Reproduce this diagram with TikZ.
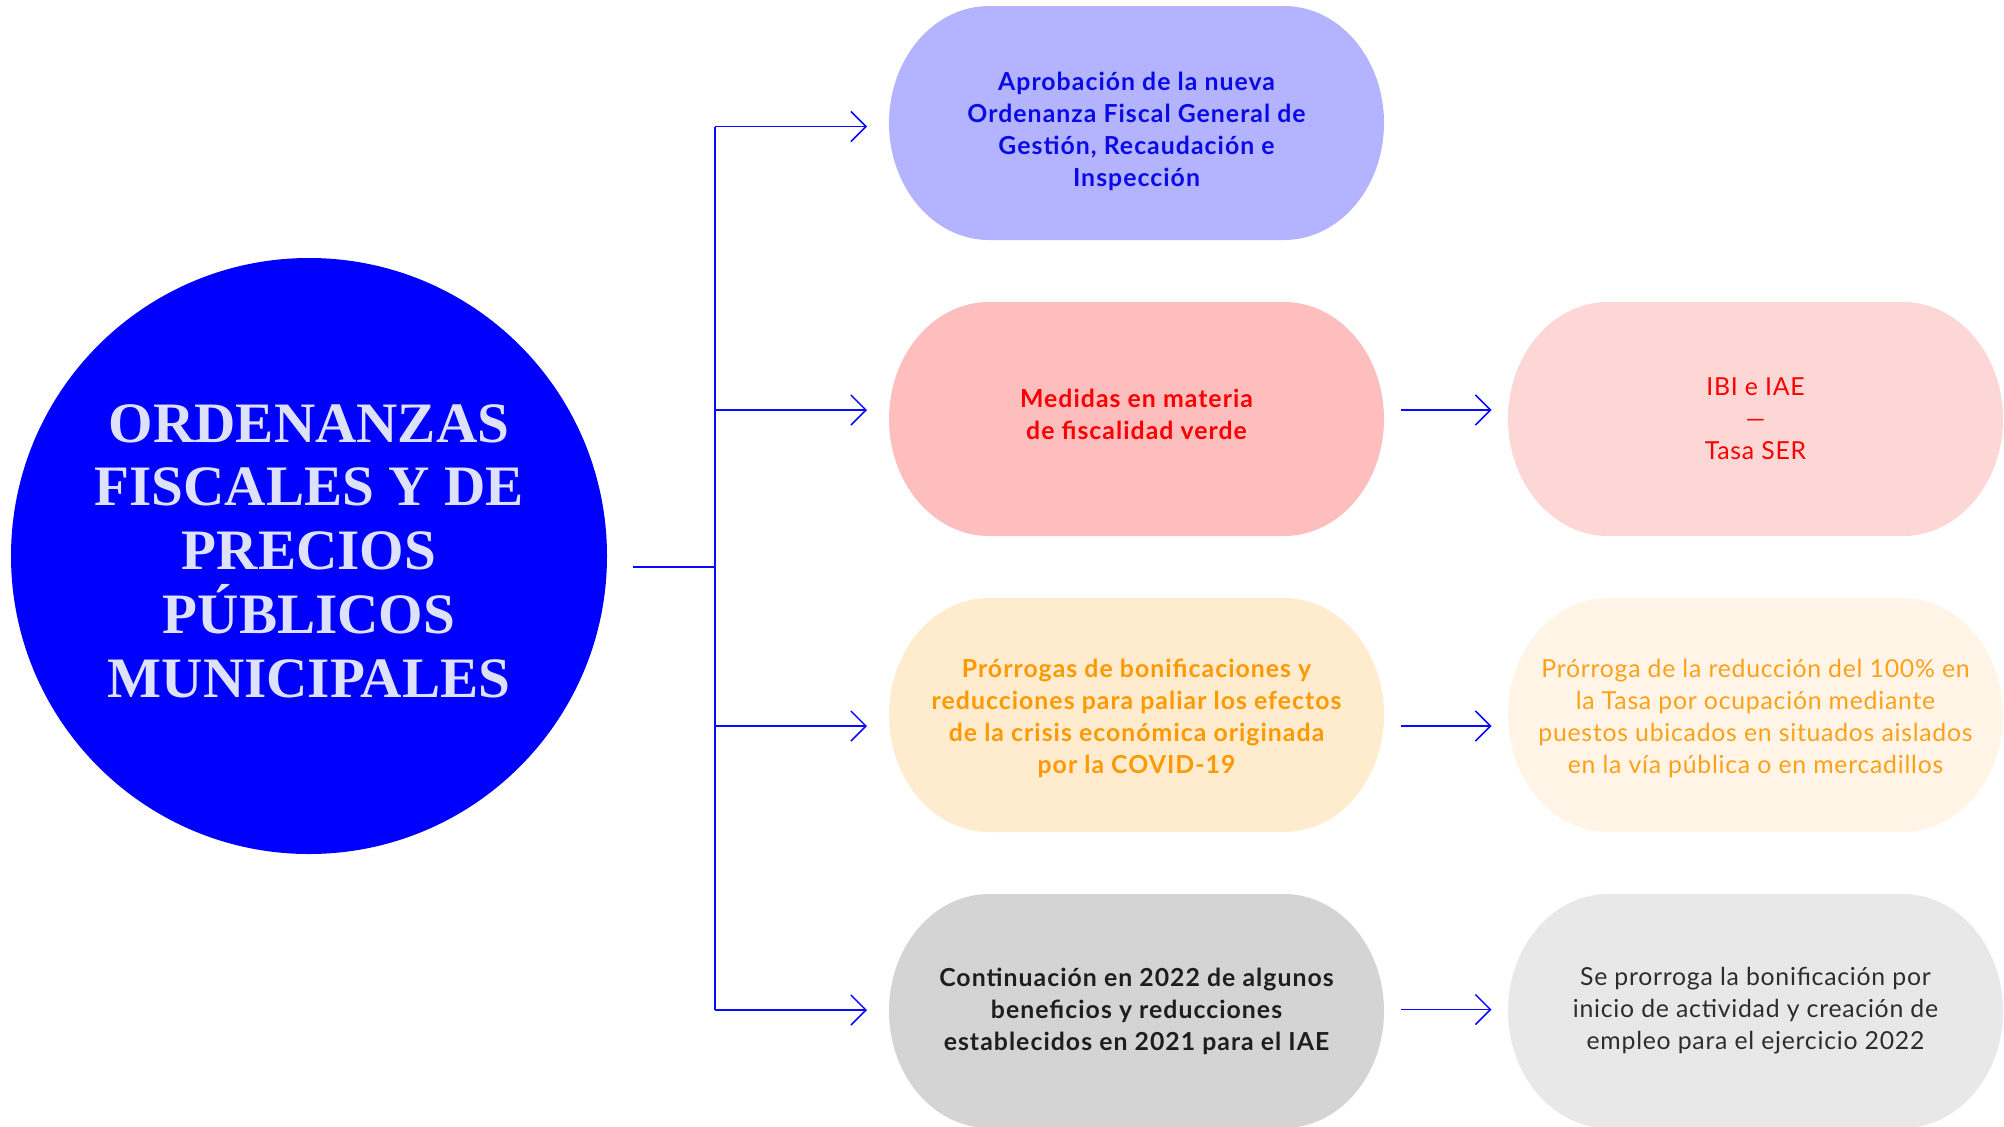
\documentclass[tikz,border=0pt]{standalone}
\usepackage{fontspec}
\setmainfont{Lato}
\newfontfamily\pillfont[LetterSpace=3]{Lato}
\newfontfamily\pillboldfont[LetterSpace=4.2]{Lato Bold}
\newfontfamily\titlefont{Liberation Serif}
\usetikzlibrary{arrows.meta,backgrounds}
\definecolor{lineblue}{RGB}{10,10,255}
\definecolor{circblue}{RGB}{0,0,255}
\definecolor{circtext}{RGB}{222,225,250}
\definecolor{fillA}{RGB}{179,179,255}
\definecolor{textA}{RGB}{10,10,230}
\definecolor{fillB}{RGB}{254,190,190}
\definecolor{fillBr}{RGB}{253,214,214}
\definecolor{textB}{RGB}{250,0,0}
\definecolor{fillC}{RGB}{255,235,205}
\definecolor{fillCr}{RGB}{255,244,229}
\definecolor{textC}{RGB}{255,153,0}
\definecolor{textCr}{RGB}{255,160,25}
\definecolor{fillD}{RGB}{212,212,212}
\definecolor{fillDr}{RGB}{232,232,232}
\definecolor{textD}{RGB}{30,30,30}
\definecolor{textDr}{RGB}{45,45,45}
\tikzset{
  pillnode/.style={rectangle, inner sep=0pt, outer sep=0pt, minimum width=247.5pt, minimum height=117pt},
  pilltext/.style={align=center, inner sep=0pt, font=\pillfont\fontsize{12.4}{16}\selectfont},
  boldtxt/.style={align=center, inner sep=0pt, font=\pillboldfont\fontsize{12.4}{16}\selectfont},
  conn/.style={draw=lineblue, line width=0.75pt},
  arr/.style={conn, -{Straight Barb[length=7.5pt,width=15pt,line width=0.75pt]}}
}
\newcommand\pillbg[2]{\fill[#2] ([xshift=50pt]#1.north west) -- ([xshift=-50pt]#1.north east) arc[start angle=90,end angle=-90,x radius=50pt,y radius=58.5pt] -- ([xshift=50pt]#1.south west) arc[start angle=270,end angle=90,x radius=50pt,y radius=58.5pt] -- cycle;}
\begin{document}
\begin{tikzpicture}[x=0.5pt,y=-0.5pt]
\useasboundingbox (0,0) rectangle (2004,1126);
% central circle
\node[circle, fill=circblue, inner sep=0pt, minimum size=298pt] (c) at (309,556) {};
\node[align=center, text=circtext, font=\titlefont\fontsize{28.6}{31.9}\selectfont\bfseries] (ct) at (309,551) {ORDENANZAS\\FISCALES Y DE\\PRECIOS\\PÚBLICOS\\MUNICIPALES};
% pill shapes
\node[pillnode] (p1) at (1136.5,123) {};
\node[pillnode] (p2) at (1136.5,419) {};
\node[pillnode] (p3) at (1136.5,715) {};
\node[pillnode] (p4) at (1136.5,1011) {};
\node[pillnode] (q2) at (1755.5,419) {};
\node[pillnode] (q3) at (1755.5,715) {};
\node[pillnode] (q4) at (1755.5,1011) {};
\begin{scope}[on background layer]
\pillbg{p1}{fillA}
\pillbg{p2}{fillB}
\pillbg{p3}{fillC}
\pillbg{p4}{fillD}
\pillbg{q2}{fillBr}
\pillbg{q3}{fillCr}
\pillbg{q4}{fillDr}
\end{scope}
% pill texts
\node[boldtxt, text=textA] (t1) at (1136.5,131) {Aprobación de la nueva\\Ordenanza Fiscal General de\\Gestión, Recaudación e\\Inspección};
\node[boldtxt, text=textB] (t2) at (1136.5,414) {Medidas en materia\\de fiscalidad verde};
\node[boldtxt, text=textC] (t3) at (1136.5,718) {Prórrogas de bonificaciones y\\reducciones para paliar los efectos\\de la crisis económica originada\\por la COVID-19};
\node[boldtxt, text=textD] (t4) at (1136.5,1011) {Continuación en 2022 de algunos\\beneficios y reducciones\\establecidos en 2021 para el IAE};
\node[pilltext, text=textB] (u2) at (1755.5,419) {IBI e IAE\\—\\Tasa SER};
\node[pilltext, text=textCr] (u3) at (1755.5,718) {Prórroga de la reducción del 100\% en\\la Tasa por ocupación mediante\\puestos ubicados en situados aislados\\en la vía pública o en mercadillos};
\node[pilltext, text=textDr] (u4) at (1755.5,1011) {Se prorroga la bonificación por\\inicio de actividad y creación de\\empleo para el ejercicio 2022};
% connectors
\coordinate (t0) at (633,567);
\coordinate (j) at (715,567);
\coordinate (b1) at (715,126.5);
\coordinate (b2) at (715,410);
\coordinate (b3) at (715,726);
\coordinate (b4) at (715,1010);
\coordinate (e1) at (867,126.5);
\coordinate (e2) at (867,410);
\coordinate (e3) at (867,726);
\coordinate (e4) at (867,1010);
\coordinate (s2) at (1401,410);
\coordinate (s3) at (1401,726);
\coordinate (s4) at (1401,1009.5);
\coordinate (f2) at (1491.5,410);
\coordinate (f3) at (1491.5,726);
\coordinate (f4) at (1491.5,1009.5);
\draw[conn] (t0) -- (j);
\draw[conn] (b1) -- (b4);
\draw[arr] (b1) -- (e1);
\draw[arr] (b2) -- (e2);
\draw[arr] (b3) -- (e3);
\draw[arr] (b4) -- (e4);
\draw[arr] (s2) -- (f2);
\draw[arr] (s3) -- (f3);
\draw[arr] (s4) -- (f4);
\end{tikzpicture}
\end{document}
